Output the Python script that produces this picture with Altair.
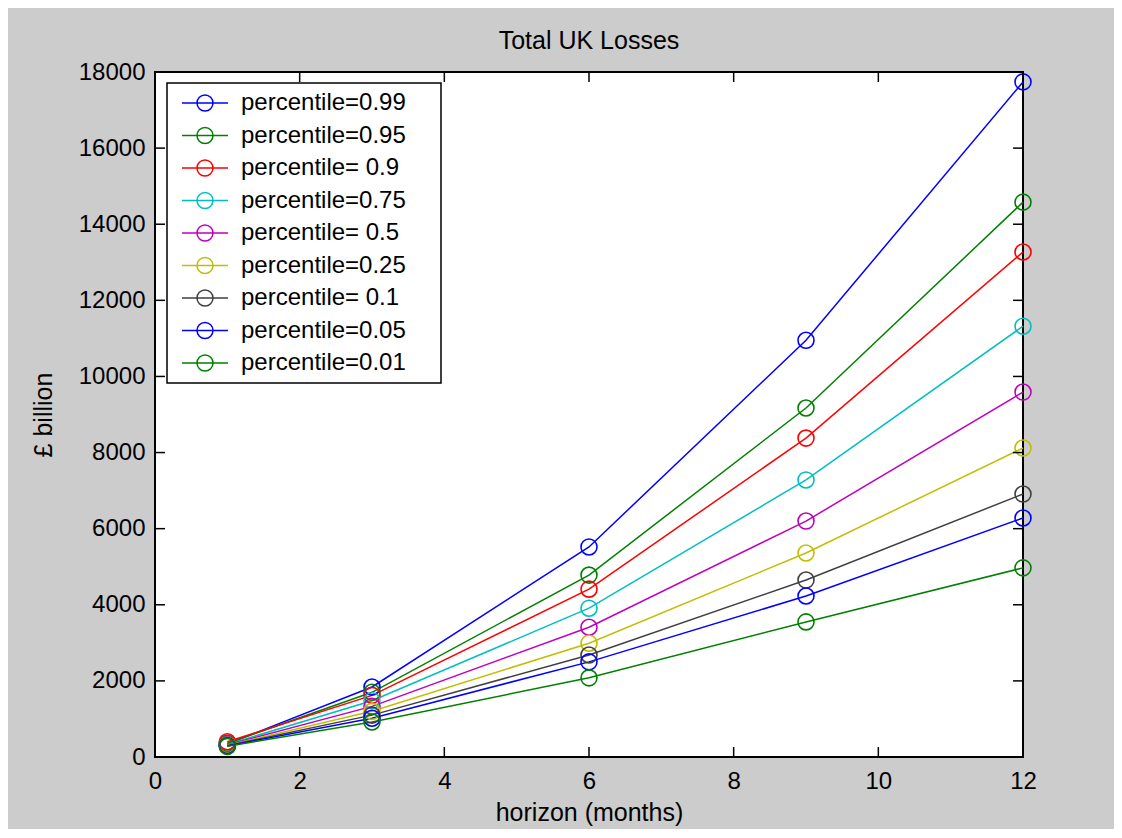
import altair as alt
import pandas as pd

months = [1, 3, 6, 9, 12]
labels = ["percentile=0.99", "percentile=0.95", "percentile= 0.9", "percentile=0.75",
          "percentile= 0.5", "percentile=0.25", "percentile= 0.1", "percentile=0.05",
          "percentile=0.01"]
p99 = [340, 1840, 5520, 10950, 17740]
p95 = [360, 1700, 4780, 9170, 14580]
p90 = [400, 1620, 4410, 8380, 13270]
p75 = [330, 1480, 3910, 7280, 11320]
p50 = [320, 1330, 3410, 6200, 9590]
p25 = [310, 1200, 2990, 5360, 8120]
p10 = [300, 1100, 2680, 4650, 6910]
p05 = [290, 1020, 2500, 4230, 6280]
p01 = [280, 920, 2080, 3550, 4970]
series = [p99, p95, p90, p75, p50, p25, p10, p05, p01]
colors = ["#0000ff", "#008000", "#ff0000", "#00bfbf", "#bf00bf",
          "#bfbf00", "#404040", "#0000ff", "#008000"]
x_ticks = [0, 2, 4, 6, 8, 10, 12]
y_ticks = [0, 2000, 4000, 6000, 8000, 10000, 12000, 14000, 16000, 18000]

rows = []
for lab, vals in zip(labels, series):
    for m, v in zip(months, vals):
        rows.append({"series": lab, "month": m, "loss": v})
df = pd.DataFrame(rows)
xt = pd.DataFrame({"v": x_ticks})
yt = pd.DataFrame({"v": y_ticks})

W, H = 868, 685
FONT = "Liberation Sans"
xs = alt.Scale(domain=[0, 12], nice=False, zero=False)
ys = alt.Scale(domain=[0, 18000], nice=False)

sym = "M-2.875,0L2.875,0M-1,0A1,1 0 1,0 1,0A1,1 0 1,0 -1,0M28.1,0"

color = alt.Color(
    "series:N",
    scale=alt.Scale(domain=labels, range=colors),
    legend=alt.Legend(
        title=None, orient="none", legendX=12, legendY=11,
        symbolType=sym, symbolSize=256, symbolStrokeWidth=1.5,
        symbolOffset=18, labelOffset=24, rowPadding=8.5, padding=8,
        labelFont=FONT, labelFontSize=24, labelColor="black", labelLimit=400,
        fillColor="white", strokeColor="black",
    ),
)

xaxis = alt.Axis(values=x_ticks, title="horizon (months)", ticks=False, domain=False,
                 grid=False, labelPadding=12, titlePadding=7, labelFlush=False,
                 format="d")
yaxis = alt.Axis(values=y_ticks, title="£ billion", ticks=False, domain=False,
                 grid=False, labelPadding=10, titlePadding=21.5, labelFlush=False,
                 format="d")

lines = alt.Chart(df).mark_line(strokeWidth=1.5, opacity=1).encode(
    x=alt.X("month:Q", scale=xs, axis=xaxis),
    y=alt.Y("loss:Q", scale=ys, axis=yaxis),
    color=color,
    detail="series:N",
)
points = alt.Chart(df).mark_point(shape="circle", filled=False, size=256,
                                  strokeWidth=1.6, opacity=1).encode(
    x=alt.X("month:Q", scale=xs, axis=xaxis),
    y=alt.Y("loss:Q", scale=ys, axis=yaxis),
    color=color,
)

tick_style = dict(color="black", strokeWidth=1.5)
xb = alt.Chart(xt).mark_rule(**tick_style).encode(
    x=alt.X("v:Q", scale=xs, axis=xaxis), y=alt.value(H), y2=alt.value(H - 10))
xtop = alt.Chart(xt).mark_rule(**tick_style).encode(
    x=alt.X("v:Q", scale=xs, axis=xaxis), y=alt.value(0), y2=alt.value(10))
yl = alt.Chart(yt).mark_rule(**tick_style).encode(
    y=alt.Y("v:Q", scale=ys, axis=yaxis), x=alt.value(0), x2=alt.value(10))
yr = alt.Chart(yt).mark_rule(**tick_style).encode(
    y=alt.Y("v:Q", scale=ys, axis=yaxis), x=alt.value(W), x2=alt.value(W - 10))

chart = alt.layer(lines, points, xb, xtop, yl, yr).properties(
    width=W, height=H,
    background="#cccccc",
    padding={"left": 147, "top": 64, "right": 91, "bottom": 72},
    autosize=alt.AutoSizeParams(type="none"),
    title=alt.Title("Total UK Losses", font=FONT, fontSize=25, fontWeight="normal",
                    color="black", anchor="middle", frame="group", offset=-14,
                    baseline="alphabetic"),
).configure_view(
    fill="white", stroke="black", strokeWidth=2
).configure_axis(
    labelFont=FONT, labelFontSize=24, labelColor="black",
    titleFont=FONT, titleFontSize=25, titleFontWeight="normal", titleColor="black",
).configure_legend(
    strokeWidth=1.5
)

chart.save("out.html", embed_options={"renderer": "svg", "actions": False})
